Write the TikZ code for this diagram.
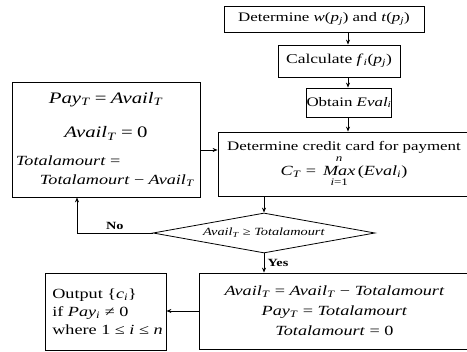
\documentclass[tikz,border=0pt]{standalone}
\usepackage{amsmath}
\usepackage{fontspec}
\setmainfont[FakeStretch=1.3]{Liberation Serif}
\usepackage{tikz}
\usetikzlibrary{arrows.meta,calc,positioning,shapes.geometric}
\newcommand{\It}[1]{\textit{#1}}
\newcommand{\Sb}[1]{\textsubscript{\textit{#1}}}
\newcommand{\fs}[1]{\fontsize{#1}{#1}\selectfont}
\tikzset{
  flowbox/.style  = {draw, line width=0.8pt, inner sep=0pt, align=center,
                     font=\fs{13}},
  decision/.style = {diamond, draw, line width=0.8pt, inner sep=0pt,
                     aspect=5.5, font=\fs{11}},
  flow/.style     = {-{Stealth[length=5pt,width=4pt]}, line width=0.8pt},
  branch/.style   = {font=\bfseries\fs{11}},
}

\begin{document}
\begin{tikzpicture}[x=1pt,y=-1pt]
  \clip (0,0) rectangle (467,352);
  \coordinate (spine) at (348,0);
  \coordinate (rowa)  at (0,150);
  \coordinate (nox)   at (77,0);

  \node[flowbox, minimum width=200pt, minimum height=26pt] (detwt) at (324,19)
    {Determine \It{w}(\It{p}\Sb{j}) and \It{t}(\It{p}\Sb{j})};
  \node[flowbox, minimum width=122pt, minimum height=32pt, font=\fs{13.5}] (calcf) at (339,61)
    {Calculate \It{f}\Sb{i}(\It{p}\Sb{j})};
  \node[flowbox, minimum width=78pt, minimum height=29pt] (evali) at (349,102.5)
    {Obtain \It{Eval}\Sb{i}};
  \node[flowbox, minimum width=252pt, minimum height=64pt] (credit) at (344,164)
    {Determine credit card for payment\\[1pt]
     {\fs{14}$\text{\It{C}\Sb{T} = }\mathop{\text{\It{Max}}}\limits_{\raisebox{-1.5pt}{\fs{10}\It{i}=1}}^{\raisebox{2pt}{\fs{10}\It{n}}}\text{(\It{Eval}\Sb{i})}$}};
  \node[flowbox, minimum width=188pt, minimum height=115pt, text width=180pt] (paybox) at (106,139.5)
    {{\fs{16}\It{Pay}\Sb{T} = \It{Avail}\Sb{T}}\\[19pt]
     {\fs{16}\It{Avail}\Sb{T} = 0}\\[15pt]
     \makebox[180pt][l]{\fs{14}\It{Totalamourt} =}\\[6pt]
     \makebox[180pt][l]{\fs{14}\hspace{24pt}\It{Totalamourt} − \It{Avail}\Sb{T}}};
  \node[decision, minimum width=222pt, minimum height=40pt] (cond) at (264,233)
    {\It{Avail}\Sb{T} ≥ \It{Totalamourt}};
  \node[flowbox, minimum width=271pt, minimum height=76pt, font=\fs{14}] (update) at (334.5,311)
    {\It{Avail}\Sb{T} = \It{Avail}\Sb{T} − \It{Totalamourt}\\[6pt]
     \It{Pay}\Sb{T} = \It{Totalamourt}\\[6pt]
     \It{Totalamourt} = 0};
  \node[flowbox, minimum width=121pt, minimum height=77pt, align=left, font=\fs{14}] (output) at (105.5,311.5)
    {\hspace{4pt}Output \{\It{c}\Sb{i}\}\\[4pt]
     \hspace{4pt}if \It{Pay}\Sb{i} ≠ 0\\[4pt]
     \hspace{4pt}where 1 ≤ \It{i} ≤ \It{n}};

  \draw[flow] (detwt.south -| spine) -- (calcf.north -| spine);
  \draw[flow] (calcf.south -| spine) -- (evali.north -| spine);
  \draw[flow] (evali.south -| spine) -- (credit.north -| spine);
  \draw[flow] (paybox.east |- rowa) -- (credit.west |- rowa);
  \draw[flow] (credit.south -| cond.north) -- (cond.north);
  \draw[flow] (cond.west) -| (nox |- paybox.south)
    node[branch, pos=0.25, above] {No};
  \draw[flow] (cond.south) -- (cond.south |- update.north)
    node[branch, midway, right] {Yes};
  \draw[flow] (update.west) -- (update.west -| output.east);
\end{tikzpicture}
\end{document}
